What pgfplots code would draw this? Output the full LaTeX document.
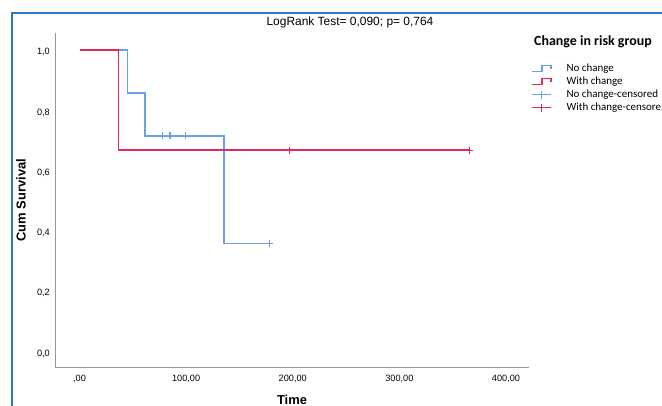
\documentclass[border=0pt]{standalone}
\usepackage{fontspec}
\setmainfont{Liberation Sans}
\newfontfamily\calibri{Carlito}
\usepackage{pgfplots}
\pgfplotsset{compat=1.18}
\definecolor{kmblue}{RGB}{105,160,235}
\definecolor{kmred}{RGB}{226,42,90}
\definecolor{frameblue}{RGB}{40,120,195}
\definecolor{axgray}{RGB}{150,150,150}
\pgfplotsset{
  kmstep/.style={legend image code/.code={\draw (0bp,-3bp) -- (10bp,-3bp) -- (10bp,3bp) -- (19bp,3bp) -- (19bp,0bp);}},
  kmcens/.style={legend image code/.code={\draw (0bp,0bp) -- (19bp,0bp); \draw (9.5bp,-4bp) -- (9.5bp,4bp);}},
}
\begin{document}
\begin{tikzpicture}
\useasboundingbox (0,0) rectangle (662bp,406bp);
\draw[frameblue, line width=2bp] (11.5bp,-2bp) -- (11.5bp,392.5bp) -- (664bp,392.5bp);
\begin{axis}[
  scale only axis, width=474bp, height=334bp, at={(55bp,39bp)}, anchor=south west,
  xmin=-23, xmax=421.6, ymin=-0.053, ymax=1.056,
  axis x line=bottom, axis y line=left,
  axis line style={-, axgray, line width=0.9bp},
  major tick length=0pt,
  xtick={0,100,200,300,400},
  xticklabels={{,00},{100,00},{200,00},{300,00},{400,00}},
  ytick={0,0.2,0.4,0.6,0.8,1.0},
  yticklabels={{0,0},{0,2},{0,4},{0,6},{0,8},{1,0}},
  tick label style={font=\fontsize{9.2}{11}\selectfont, inner sep=0pt},
  xticklabel style={yshift=-8bp},
  yticklabel style={xshift=-5bp, yshift=-2.5bp},
  xlabel={Time}, ylabel={Cum Survival},
  xlabel style={at={(axis description cs:0.5,-0.099)}, anchor=center, font=\bfseries\fontsize{13}{15}\selectfont, inner sep=0pt},
  ylabel style={at={(axis description cs:-0.0717,0.5)}, anchor=center, font=\bfseries\fontsize{13}{15}\selectfont, inner sep=0pt},
  legend style={at={(axis description cs:1.0042,0.91)}, anchor=north west, draw=none, fill=none, inner sep=0pt,
    font=\calibri\fontsize{11}{13}\selectfont, row sep=2bp, column sep=15bp,
    nodes={inner sep=0pt, text height=8bp, text depth=3bp}},
  legend cell align=left,
  clip=false,
]
\addplot[kmblue, line width=1.5bp, const plot, forget plot] coordinates {(0,1) (44.8,0.857) (61.2,0.714) (135.6,0.357) (178,0.357)};
\addplot[kmred, line width=1.5bp, const plot, forget plot] coordinates {(0,1) (36.4,0.667) (365.7,0.667)};
\addplot[kmblue, only marks, mark=+, mark size=3.5bp, mark options={line width=1.3bp}, forget plot] coordinates {(77.7,0.714) (84.9,0.714) (99.6,0.714) (178,0.357)};
\addplot[kmred, only marks, mark=+, mark size=3.5bp, mark options={line width=1.3bp}, forget plot] coordinates {(196.8,0.667) (365.7,0.667)};
\addlegendimage{kmblue, line width=1.4bp, kmstep}
\addlegendentry{No change}
\addlegendimage{kmred, line width=1.4bp, kmstep}
\addlegendentry{With change}
\addlegendimage{kmblue, line width=1.4bp, kmcens}
\addlegendentry{No change-censored}
\addlegendimage{kmred, line width=1.4bp, kmcens}
\addlegendentry{With change-censore}
\end{axis}
\node[font=\fontsize{12}{14}\selectfont] at (350bp,384bp) {LogRank Test= 0,090; p= 0,764};
\node[font=\calibri\bfseries\fontsize{14}{16}\selectfont] at (593bp,364.3bp) {Change in risk group};
\end{tikzpicture}
\end{document}
